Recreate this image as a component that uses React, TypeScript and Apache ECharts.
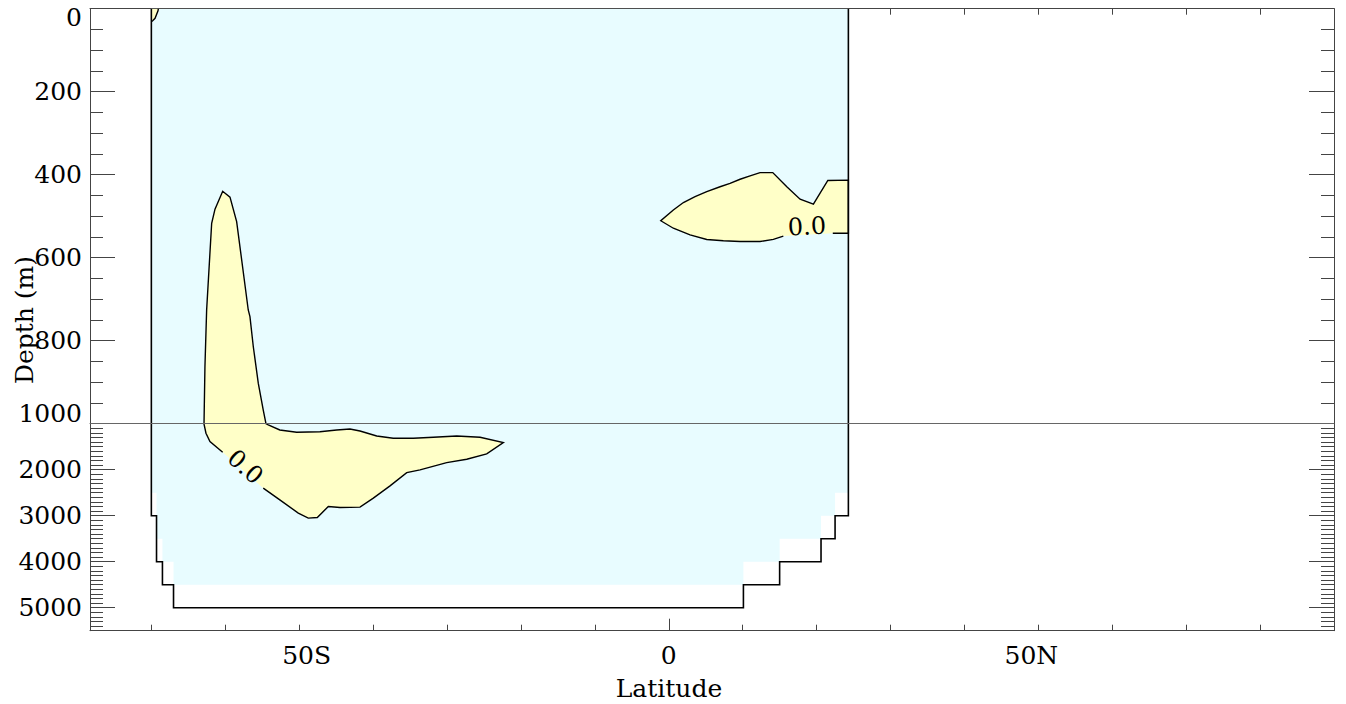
import React, { useEffect, useRef } from 'react';
import * as echarts from 'echarts';

// ---------- axes ----------
const LAT_MIN = -78.3;
const LAT_MAX = 90;
const LAT_TICKS = [-70, -60, -50, -40, -30, -20, -10, 0, 10, 20, 30, 40, 50, 60, 70, 80, 90];
const LAT_LABEL_VALUES = [-50, 0, 50];
const LAT_LABEL_TEXT: Record<string, string> = { '-50': '50S', '0': '0', '50': '50N' };
const LAT_MAJOR_TICK = [0];

const DEPTH_UPPER_MIN = 0;
const DEPTH_UPPER_MAX = 1000;
const DEPTH_UPPER_MAJOR = [0, 200, 400, 600, 800, 1000];
const DEPTH_UPPER_MINOR: number[] = [];
for (let d = 50; d < 1000; d += 50) if (d % 200 !== 0) DEPTH_UPPER_MINOR.push(d);

const DEPTH_LOWER_MIN = 1000;
const DEPTH_LOWER_MAX = 5500;
const DEPTH_LOWER_MAJOR = [1000, 2000, 3000, 4000, 5000];
const DEPTH_LOWER_LABELS = [2000, 3000, 4000, 5000];
const DEPTH_LOWER_MINOR: number[] = [];
for (let d = 1100; d < 5500; d += 100) if (d % 1000 !== 0) DEPTH_LOWER_MINOR.push(d);

// ---------- data: [latitude, depth (m)] ----------
const OCEAN_FILL: number[][] = [
  [-70, 0], [24.3, 0], [24.3, 2500], [22.5, 2500], [22.5, 3000], [20.6, 3000],
  [20.6, 3500], [15, 3500], [15, 4000], [10.1, 4000], [10.1, 4500],
  [-67, 4500], [-67, 4000], [-68.5, 4000], [-68.5, 3500], [-69.3, 3500],
  [-69.3, 2500], [-70, 2500],
];

const OCEAN_OUTLINE: number[][] = [
  [-70, 0], [-70, 3000], [-69.3, 3000], [-69.3, 4000], [-68.5, 4000], [-68.5, 4500],
  [-67, 4500], [-67, 5000], [10.1, 5000], [10.1, 4500], [15, 4500], [15, 4000],
  [20.6, 4000], [20.6, 3500], [22.5, 3500], [22.5, 3000], [24.3, 3000], [24.3, 0],
];

// positive region, Southern Ocean (outline gap between last and first point holds the label)
const REGION_SOUTH: number[][] = [
  [-60.35, 1620], [-62.07, 1390], [-62.61, 1208], [-62.88, 1005], [-62.75, 863],
  [-62.52, 726], [-61.84, 517], [-61.39, 483], [-60.35, 440], [-59.36, 454],
  [-58.46, 513], [-56.89, 726], [-56.66, 742], [-56.21, 814], [-55.53, 903],
  [-54.86, 967], [-54.18, 1028], [-52.62, 1137], [-50.34, 1187], [-47.19, 1174],
  [-44.93, 1137], [-43.13, 1115], [-41.77, 1158], [-39.51, 1267], [-37.27, 1317],
  [-34.56, 1317], [-31.85, 1295], [-28.69, 1267], [-25.53, 1295], [-22.38, 1412],
  [-24.63, 1657], [-27.33, 1772], [-30.04, 1846], [-33.65, 2004], [-35.45, 2063],
  [-37.71, 2351], [-39.97, 2618], [-41.77, 2813], [-44.48, 2822], [-46.06, 2800],
  [-47.55, 3039], [-48.77, 3052], [-50.12, 2944], [-52.62, 2655], [-54.86, 2401],
];

// positive region, equatorial thermocline
const REGION_EQUATOR: number[][] = [
  [15.5, 548], [14.15, 556], [12.35, 561], [9.65, 561], [7.39, 559], [5.14, 556],
  [2.88, 545], [0.62, 529], [-1.08, 511], [0.62, 485], [1.98, 467], [3.56, 453],
  [5.14, 441], [6.94, 429], [8.29, 421], [9.65, 411], [11.0, 403], [12.35, 395],
  [14.07, 395], [15.97, 429], [17.77, 459], [19.57, 471], [21.52, 414], [24.3, 413],
  [24.3, 541], [22.19, 541],
];

// tiny positive patch at the surface, far south
const REGION_SURFACE: number[][] = [
  [-69.05, 0], [-69.1, 5], [-69.5, 23], [-69.82, 29], [-70, 31], [-70, 0],
];

const CONTOUR_LABELS = [
  { lat: -57.3, depth: 1940, text: '0.0', angle: -41.6, grid: 1 },
  { lat: 18.7, depth: 525, text: '0.0', angle: 3, grid: 0 },
];

// ---------- styles ----------
const FONT = 'DejaVu Serif';
const FS = 25;
const OCEAN_COLOR = '#E8FCFF';
const POSITIVE_COLOR = '#FFFFC8';
const FRAME_COLOR = '#444';

const GRID_LEFT = 90;
const GRID_RIGHT = 12;
const UPPER_TOP = 8.7;
const UPPER_H = 415;
const LOWER_H = 207;

function polySeries(grid: number, pts: number[][], kind: 'polygon' | 'polyline', style: any, z: number) {
  return {
    type: 'custom',
    xAxisIndex: grid === 0 ? 0 : 2,
    yAxisIndex: grid === 0 ? 0 : 4,
    clip: true,
    silent: true,
    z,
    data: [[pts[0][0], pts[0][1]]],
    renderItem: (_params: any, api: any) => ({
      type: kind,
      shape: { points: pts.map((p) => api.coord(p)) },
      style,
    }),
  };
}

function labelSeries(grid: number, items: typeof CONTOUR_LABELS) {
  return {
    type: 'custom',
    xAxisIndex: grid === 0 ? 0 : 2,
    yAxisIndex: grid === 0 ? 0 : 4,
    clip: true,
    silent: true,
    z: 6,
    data: items.map((it) => [it.lat, it.depth]),
    renderItem: (params: any, api: any) => {
      const it = items[params.dataIndex];
      const c = api.coord([it.lat, it.depth]);
      return {
        type: 'text',
        x: c[0],
        y: c[1],
        rotation: (it.angle * Math.PI) / 180,
        style: {
          text: it.text,
          fontSize: 24,
          fontFamily: FONT,
          fill: '#000',
          align: 'center',
          verticalAlign: 'middle',
        },
      };
    },
  };
}

function yAxisDef(grid: number, side: 'left' | 'right', min: number, max: number, ticks: number[], len: number, line: boolean, labels?: number[], formatter?: any, rich?: any) {
  return {
    type: 'value',
    gridIndex: grid,
    position: side,
    min,
    max,
    inverse: true,
    axisLine: { show: line, onZero: false, lineStyle: { color: FRAME_COLOR, width: 1 } },
    axisTick: { show: true, inside: true, length: len, customValues: ticks, lineStyle: { color: FRAME_COLOR, width: 1 } },
    axisLabel: labels
      ? { show: true, customValues: labels, formatter, rich, fontSize: FS, fontFamily: FONT, color: '#000', margin: 8 }
      : { show: false },
    splitLine: { show: false },
  };
}

export default function App() {
  const ref = useRef<HTMLDivElement>(null);

  useEffect(() => {
    if (!ref.current) return;
    const chart = echarts.init(ref.current, undefined, { renderer: 'svg' });

    const xCommon = { type: 'value', min: LAT_MIN, max: LAT_MAX, splitLine: { show: false } };
    const richY = {
      lo: { fontSize: FS, fontFamily: FONT, color: '#000', padding: [17, 0, 0, 0] },
      hi: { fontSize: FS, fontFamily: FONT, color: '#000', padding: [0, 0, 21, 0] },
    };
    const richX = {
      s: { fontSize: FS, fontFamily: FONT, color: '#000', padding: [0, 0, 0, 15] },
      n: { fontSize: FS, fontFamily: FONT, color: '#000', padding: [0, 14, 0, 0] },
      m: { fontSize: FS, fontFamily: FONT, color: '#000' },
    };

    const option: any = {
      animation: false,
      backgroundColor: '#fff',
      textStyle: { fontFamily: FONT },
      grid: [
        { left: GRID_LEFT, right: GRID_RIGHT, top: UPPER_TOP, height: UPPER_H, containLabel: false },
        { left: GRID_LEFT, right: GRID_RIGHT, top: UPPER_TOP + UPPER_H, height: LOWER_H, containLabel: false },
      ],
      xAxis: [
        {
          ...xCommon, gridIndex: 0, position: 'top',
          axisLine: { show: true, onZero: false, lineStyle: { color: FRAME_COLOR, width: 1 } },
          axisTick: { show: true, inside: true, length: 6, customValues: LAT_TICKS, lineStyle: { color: FRAME_COLOR } },
          axisLabel: { show: false },
        },
        {
          ...xCommon, gridIndex: 1, position: 'top', z: 20,
          axisLine: { show: true, onZero: false, lineStyle: { color: '#666', width: 1 } },
          axisTick: { show: false },
          axisLabel: { show: false },
        },
        {
          ...xCommon, gridIndex: 1, position: 'bottom',
          axisLine: { show: true, onZero: false, lineStyle: { color: FRAME_COLOR, width: 1 } },
          axisTick: { show: true, inside: true, length: 6, customValues: LAT_TICKS, lineStyle: { color: FRAME_COLOR } },
          axisLabel: { show: false },
        },
        {
          ...xCommon, gridIndex: 1, position: 'bottom',
          axisLine: { show: false, onZero: false },
          axisTick: { show: true, inside: true, length: 12, customValues: LAT_MAJOR_TICK, lineStyle: { color: FRAME_COLOR } },
          axisLabel: {
            show: true,
            customValues: LAT_LABEL_VALUES,
            margin: 12,
            fontSize: FS,
            fontFamily: FONT,
            formatter: (v: number) => {
              const t = LAT_LABEL_TEXT[String(v)] ?? String(v);
              if (v < 0) return `{s|${t}}`;
              if (v > 0) return `{n|${t}}`;
              return `{m|${t}}`;
            },
            rich: richX,
          },
          name: 'Latitude',
          nameLocation: 'middle',
          nameGap: 45,
          nameTextStyle: { fontSize: FS, fontFamily: FONT, color: '#000', padding: [0, 86, 0, 0] },
        },
      ],
      yAxis: [
        yAxisDef(0, 'left', DEPTH_UPPER_MIN, DEPTH_UPPER_MAX, DEPTH_UPPER_MAJOR, 25, true, DEPTH_UPPER_MAJOR,
          (v: number) => (v === DEPTH_UPPER_MIN ? `{lo|${v}}` : v === DEPTH_UPPER_MAX ? `{hi|${v}}` : `${v}`), richY),
        yAxisDef(0, 'left', DEPTH_UPPER_MIN, DEPTH_UPPER_MAX, DEPTH_UPPER_MINOR, 13, false),
        yAxisDef(0, 'right', DEPTH_UPPER_MIN, DEPTH_UPPER_MAX, DEPTH_UPPER_MAJOR, 25, true),
        yAxisDef(0, 'right', DEPTH_UPPER_MIN, DEPTH_UPPER_MAX, DEPTH_UPPER_MINOR, 13, false),
        yAxisDef(1, 'left', DEPTH_LOWER_MIN, DEPTH_LOWER_MAX, DEPTH_LOWER_MAJOR, 25, true, DEPTH_LOWER_LABELS, (v: number) => `${v}`),
        yAxisDef(1, 'left', DEPTH_LOWER_MIN, DEPTH_LOWER_MAX, DEPTH_LOWER_MINOR, 13, false),
        yAxisDef(1, 'right', DEPTH_LOWER_MIN, DEPTH_LOWER_MAX, DEPTH_LOWER_MAJOR, 25, true),
        yAxisDef(1, 'right', DEPTH_LOWER_MIN, DEPTH_LOWER_MAX, DEPTH_LOWER_MINOR, 13, false),
      ],
      graphic: [
        {
          type: 'text',
          x: 24,
          y: 320,
          rotation: Math.PI / 2,
          style: {
            text: 'Depth (m)',
            fontSize: FS,
            fontFamily: FONT,
            fill: '#000',
            align: 'center',
            verticalAlign: 'middle',
            textAlign: 'center',
            textVerticalAlign: 'middle',
          },
        },
      ],
      series: [] as any[],
    };

    const fillOcean = { fill: OCEAN_COLOR, stroke: null, lineWidth: 0 };
    const fillPos = { fill: POSITIVE_COLOR, stroke: null, lineWidth: 0 };
    const contourLine = { fill: null, stroke: '#000', lineWidth: 1.4 };
    const wallLine = { fill: null, stroke: '#000', lineWidth: 1.6 };

    for (const g of [0, 1]) {
      option.series.push(polySeries(g, OCEAN_FILL, 'polygon', fillOcean, 2));
      option.series.push(polySeries(g, REGION_SOUTH, 'polygon', fillPos, 3));
      option.series.push(polySeries(g, REGION_EQUATOR, 'polygon', fillPos, 3));
      option.series.push(polySeries(g, REGION_SURFACE, 'polygon', fillPos, 3));
      option.series.push(polySeries(g, REGION_SOUTH, 'polyline', contourLine, 4));
      option.series.push(polySeries(g, REGION_EQUATOR, 'polyline', contourLine, 4));
      option.series.push(polySeries(g, REGION_SURFACE.slice(0, 5), 'polyline', contourLine, 4));
      option.series.push(polySeries(g, OCEAN_OUTLINE, 'polyline', wallLine, 5));
      option.series.push(labelSeries(g, CONTOUR_LABELS.filter((l) => l.grid === g)));
    }

    chart.setOption(option);
    return () => chart.dispose();
  }, []);

  return <div ref={ref} style={{ position: 'absolute', left: 0, top: 0, width: 1346, height: 704 }} />;
}
